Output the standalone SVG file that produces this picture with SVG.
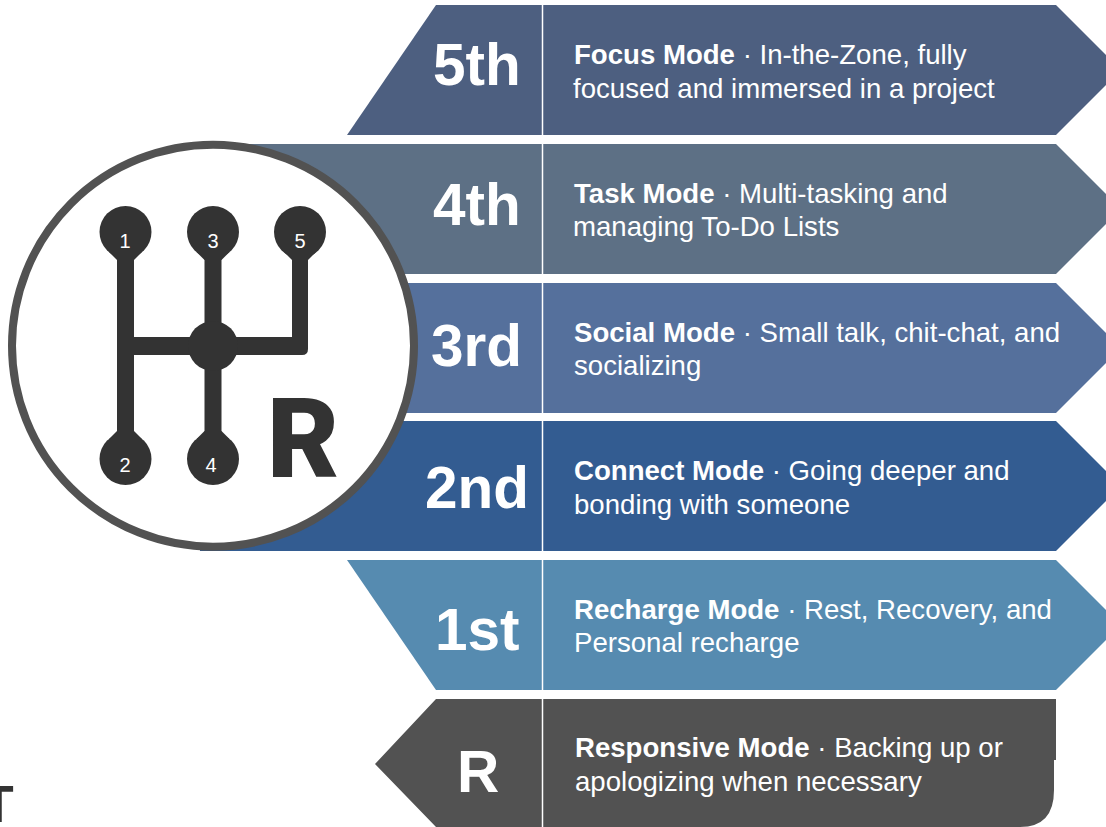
<svg xmlns="http://www.w3.org/2000/svg" width="1106" height="827" viewBox="0 0 1106 827">
<style>
text{font-family:"Liberation Sans",Arial,sans-serif;fill:#fff}
.gear{font-size:58.500px;font-weight:700}
.desc{font-size:27.600px}
.desc tspan.b{font-weight:700}
.num{font-size:20px;text-anchor:middle}
.div{stroke:#fff;stroke-width:1.5}
.ink{fill:#333}
</style>
<rect width="1106" height="827" fill="#fff"/>
<g id="row-5th">
<polygon points="436,5 1056,5 1121,70 1056,135 347,135" fill="#4d5f80"/>
<line class="div" x1="542.5" y1="5" x2="542.5" y2="135"/>
<text class="gear" x="433" y="85">5th</text>
<text class="desc" x="574" y="64"><tspan class="b">Focus Mode</tspan> · In-the-Zone, fully</text>
<text class="desc" x="573" y="98">focused and immersed in a project</text>
</g>
<g id="row-4th">
<polygon points="213,144 1056,144 1121,209 1056,274 213,274" fill="#5d7085"/>
<line class="div" x1="542.5" y1="144" x2="542.5" y2="274"/>
<text class="gear" x="433" y="225">4th</text>
<text class="desc" x="574" y="203"><tspan class="b">Task Mode</tspan> · Multi-tasking and</text>
<text class="desc" x="573" y="236">managing To-Do Lists</text>
</g>
<g id="row-3rd">
<polygon points="213,283 1056,283 1121,348 1056,413 213,413" fill="#55709c"/>
<line class="div" x1="542.5" y1="283" x2="542.5" y2="413"/>
<text class="gear" x="431" y="366">3rd</text>
<text class="desc" x="574" y="342"><tspan class="b">Social Mode</tspan> · Small talk, chit-chat, and</text>
<text class="desc" x="574" y="375">socializing</text>
</g>
<g id="row-2nd">
<polygon points="200,421 1056,421 1121,486 1056,551 200,551" fill="#335c91"/>
<line class="div" x1="542.5" y1="421" x2="542.5" y2="551"/>
<text class="gear" x="425" y="508">2nd</text>
<text class="desc" x="574" y="480"><tspan class="b">Connect Mode</tspan> · Going deeper and</text>
<text class="desc" x="574" y="514">bonding with someone</text>
</g>
<g id="row-1st">
<polygon points="347,560 1056,560 1121,625 1056,690 436,690" fill="#568bb0"/>
<line class="div" x1="542.5" y1="560" x2="542.5" y2="690"/>
<text class="gear" x="435" y="650">1st</text>
<text class="desc" x="574" y="619"><tspan class="b">Recharge Mode</tspan> · Rest, Recovery, and</text>
<text class="desc" x="574" y="652">Personal recharge</text>
</g>
<g id="row-R">
<path d="M436,699H1056V760H1054V790Q1054,827 1020,827H436L375,764Z" fill="#525252"/>
<line class="div" x1="542.5" y1="699" x2="542.5" y2="827"/>
<text class="gear" x="457" y="792">R</text>
<text class="desc" x="575" y="757"><tspan class="b">Responsive Mode</tspan> · Backing up or</text>
<text class="desc" x="575" y="791">apologizing when necessary</text>
</g>
<g id="shifter">
<circle cx="213" cy="345.7" r="201" fill="#fff" stroke="#525252" stroke-width="8"/>
<g class="ink">
<rect x="117" y="250" width="17" height="195"/>
<rect x="204.500" y="250" width="17" height="195"/>
<path d="M117,337H292V250H308V349Q308,355 302,355H117Z"/>
<circle cx="213" cy="346" r="25"/>
<circle cx="125.500" cy="232" r="26"/><polygon points="109,252 117,260 134,260 142,252"/>
<circle cx="213" cy="232" r="26"/><polygon points="196.500,252 204.500,260 221.500,260 229.500,252"/>
<circle cx="300" cy="232" r="26"/><polygon points="284,252 292,260 308,260 316,252"/>
<circle cx="125.500" cy="459" r="26"/><polygon points="109,439 117,431 134,431 142,439"/>
<circle cx="213" cy="459" r="26"/><polygon points="196.500,439 204.500,431 221.500,431 229.500,439"/>
</g>
<text class="num" x="125" y="248">1</text>
<text class="num" x="213" y="248">3</text>
<text class="num" x="300" y="248">5</text>
<text class="num" x="125" y="472">2</text>
<text class="num" x="211" y="472">4</text>
<text x="267" y="477" style="font-family:Roboto,'Liberation Sans',sans-serif;font-size:111px;font-weight:900;fill:#333">R</text>
</g>
<text x="-17.500" y="822" style="font-size:51px;font-weight:700;fill:#333">T</text>
</svg>
